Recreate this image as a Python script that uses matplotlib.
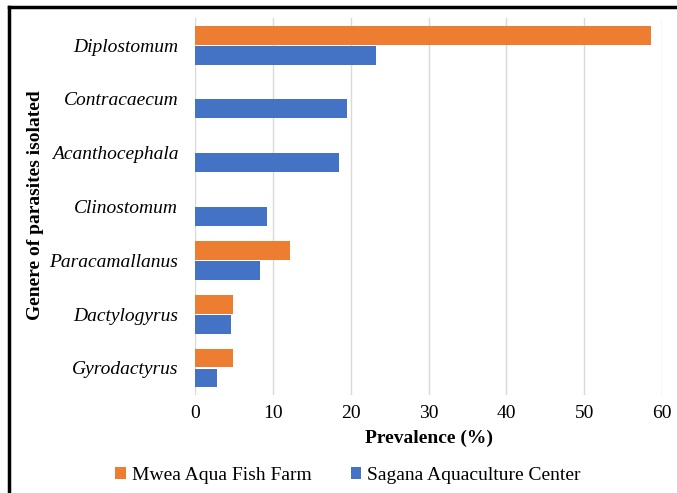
import numpy as np
import matplotlib
matplotlib.use('Agg')
import matplotlib.pyplot as plt
from matplotlib.lines import Line2D

plt.rcParams['font.family']=['Liberation Serif','DejaVu Serif']

#Data
genera=['Diplostomum','Contracaecum','Acanthocephala','Clinostomum',
        'Paracamallanus','Dactylogyrus','Gyrodactyrus']
mwea=[58.6,0,0,0,12.2,4.9,4.9]          #Mwea Aqua Fish Farm
sagana=[23.2,19.5,18.5,9.3,8.4,4.6,2.8]  #Sagana Aquaculture Center

fs=14
fig=plt.figure(figsize=(6.77,4.93),dpi=100)
ax=fig.add_axes([0.288,0.199,0.690,0.764])

y=np.arange(len(genera))[::-1]
h=0.35
ax.barh(y+h/2+0.01,mwea,height=h,color='#ED7D31',label='Mwea Aqua Fish Farm')
ax.barh(y-h/2-0.01,sagana,height=h,color='#4472C4',label='Sagana Aquaculture Center')

ax.set_yticks(y)
ax.set_yticklabels(genera,fontstyle='italic',fontsize=fs)
ax.set_ylim(-0.5,len(genera)-0.5)
ax.set_xlim(0,60)
ax.set_xticks(range(0,61,10))
ax.tick_params(axis='x',labelsize=fs,length=0,pad=7)
ax.tick_params(axis='y',length=0,pad=12)
ax.grid(axis='x',color='#D9D9D9',linewidth=1)
ax.set_axisbelow(True)
for s in ax.spines.values():
    s.set_visible(False)

ax.set_xlabel('Prevalence (%)',fontsize=fs,fontweight='bold',labelpad=6)
fig.text(0.052,0.584,'Genere of parasites isolated',rotation=90,fontsize=fs,
         fontweight='bold',ha='center',va='center')

fig.legend(loc='center',bbox_to_anchor=(0.514,0.036),ncol=2,frameon=False,
           fontsize=fs,handlelength=0.55,handleheight=0.55,columnspacing=2.0,
           handletextpad=0.3)

#Outer frame (top and left edges only)
fig.lines.append(Line2D([0.013,1.0],[0.986,0.986],transform=fig.transFigure,color='black',linewidth=2.5))
fig.lines.append(Line2D([0.013,0.013],[0.0,0.986],transform=fig.transFigure,color='black',linewidth=2.5))

plt.savefig('out.png')
